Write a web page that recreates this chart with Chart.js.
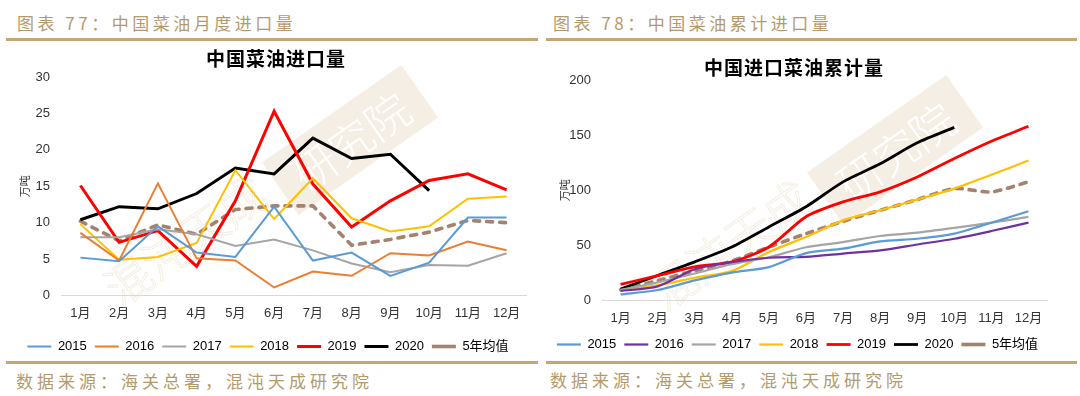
<!DOCTYPE html>
<html>
<head>
<meta charset="utf-8">
<script src="https://cdn.jsdelivr.net/npm/chart.js@4"></script>
<style>
body { margin: 0; width: 1080px; height: 396px; background: #fff; position: relative; overflow: hidden; font-family: "Noto Sans CJK SC", sans-serif; }
.cap { position: absolute; color: #b39a6c; font-size: 17px; letter-spacing: 3.5px; line-height: 20px; white-space: nowrap; }
.rule { position: absolute; height: 3px; background: #c4a776; }
.ttl { position: absolute; font-weight: 700; font-size: 19px; color: #000; transform: translateX(-50%); white-space: nowrap; line-height: 22px; letter-spacing: 1px; }
.box { position: absolute; }
</style>
</head>
<body>
<div class="cap" style="left:17px;top:13px">图表 77：中国菜油月度进口量</div>
<div class="cap" style="left:553px;top:13px">图表 78：中国菜油累计进口量</div>
<div class="rule" style="left:6px;width:532px;top:38px"></div>
<div class="rule" style="left:546px;width:531px;top:38px"></div>

<div class="box" style="left:10px;top:46px;width:530px;height:320px"><canvas id="monthly"></canvas></div>
<div class="box" style="left:548px;top:46px;width:530px;height:320px"><canvas id="cumulative"></canvas></div>

<div class="ttl" style="left:276px;top:47px">中国菜油进口量</div>
<div class="ttl" style="left:794px;top:56px">中国进口菜油累计量</div>

<div class="rule" style="left:6px;width:532px;top:361px"></div>
<div class="rule" style="left:546px;width:531px;top:361px"></div>
<div class="cap" style="left:16px;top:371px;letter-spacing:4px">数据来源：海关总署，混沌天成研究院</div>
<div class="cap" style="left:550px;top:370px;letter-spacing:4px">数据来源：海关总署，混沌天成研究院</div>

<script>
const months = ['1月', '2月', '3月', '4月', '5月', '6月', '7月', '8月', '9月', '10月', '11月', '12月'];

// monthly imports, 10k tonnes
const imp2015 = [5.2, 4.7, 9.5, 5.9, 5.3, 12.2, 4.8, 5.9, 2.7, 4.5, 10.7, 10.7];
const imp2016 = [8.6, 4.8, 15.4, 5.1, 4.8, 1.1, 3.3, 2.7, 5.8, 5.5, 7.4, 6.2];
const imp2017 = [8.0, 8.0, 9.1, 8.4, 6.8, 7.7, 6.2, 4.4, 3.2, 4.2, 4.1, 5.8];
const imp2018 = [9.8, 4.9, 5.3, 7.2, 17.2, 10.5, 16.1, 10.6, 8.8, 9.5, 13.3, 13.6];
const imp2019 = [15.1, 7.3, 8.9, 4.0, 13.0, 25.3, 15.3, 9.4, 13.0, 15.8, 16.7, 14.5];
const imp2020 = [10.4, 12.2, 11.9, 14.0, 17.5, 16.7, 21.6, 18.8, 19.4, 14.4];
const impAvg = [10.2, 7.5, 9.7, 8.4, 11.8, 12.3, 12.3, 6.9, 7.7, 8.7, 10.3, 10.0];

// cumulative imports, 10k tonnes
const cum2015 = [5.5, 9.5, 18.2, 25.3, 30.3, 43, 47, 53.6, 56, 60.6, 70.5, 81];
const cum2016 = [8.6, 12.8, 28.3, 34.8, 38.8, 39.6, 42.6, 45.5, 50.8, 56, 63, 70.6];
const cum2017 = [9.5, 16.5, 24.5, 33, 39.2, 48.3, 53, 58.5, 61.5, 65.8, 70.6, 75.8];
const cum2018 = [9.5, 13.8, 20.6, 26.7, 44, 57.6, 72.7, 81.8, 91.5, 101.5, 114, 127];
const cum2019 = [14.7, 22.5, 30.5, 35, 48.5, 76, 89.4, 98.5, 112, 128.8, 144.5, 158];
const cum2020 = [10.4, 22.7, 35, 48.5, 66.7, 85, 107.6, 124, 143, 157];
const cumAvg = [9.8, 18, 27, 35.8, 48.5, 60.6, 71.8, 81.8, 91.5, 101.5, 98.5, 107.6];

const yearLabels = ['2015', '2016', '2017', '2018', '2019', '2020'];
const avgLabel = '5年均值';

function line(label, data, color, width, tension) {
    return {
        label, data,
        borderColor: color, backgroundColor: color,
        borderWidth: width, pointRadius: 0, tension: tension || 0,
        fill: false
    };
}

function avgLines(data, tension) {
    const outer = line(avgLabel, data, '#a3826f', 3.6, tension);
    outer.borderDash = [6, 7];
    outer.borderCapStyle = 'round';
    const inner = line('', data, '#ddcbbb', 1.3, tension);
    inner.borderDash = [6, 7];
    return [outer, inner];
}

// faint 混沌天成研究院 stamp behind the lines
function watermark(cx, cy, tx, ty) {
    return {
        id: 'wm',
        beforeDatasetsDraw(chart) {
            const ctx = chart.ctx;
            ctx.save();
            ctx.translate(cx, cy);
            ctx.rotate(-35 * Math.PI / 180);
            ctx.fillStyle = 'rgba(236,226,210,0.6)';
            ctx.fillRect(-85, -32, 170, 64);
            ctx.fillStyle = '#fff';
            ctx.font = '300 44px "Noto Sans CJK SC"';
            ctx.textAlign = 'center';
            ctx.textBaseline = 'middle';
            ctx.fillText('研究院', 0, 2);
            ctx.restore();
            ctx.save();
            ctx.translate(tx, ty);
            ctx.rotate(-35 * Math.PI / 180);
            ctx.strokeStyle = 'rgba(230,214,190,0.45)';
            ctx.lineWidth = 1;
            ctx.font = '300 46px "Noto Sans CJK SC"';
            ctx.textAlign = 'center';
            ctx.textBaseline = 'middle';
            ctx.strokeText('混沌天成', 0, 0);
            ctx.restore();
        }
    };
}

const tickFont = { family: '"Liberation Sans", "Noto Sans CJK SC", sans-serif', size: 13 };

function options(max, step, yWidth, xHeight, pad, titlePad) {
    return {
        responsive: true,
        maintainAspectRatio: false,
        animation: false,
        layout: { padding: pad },
        plugins: {
            tooltip: { enabled: false },
            title: { display: false },
            legend: {
                position: 'bottom',
                labels: {
                    usePointStyle: true,
                    pointStyle: 'line',
                    pointStyleWidth: 24,
                    padding: 8,
                    color: '#000',
                    font: tickFont,
                    filter: item => item.text !== ''
                }
            }
        },
        scales: {
            x: {
                offset: true,
                grid: { display: false, drawTicks: false },
                border: { color: '#d9d9d9', width: 1 },
                ticks: { color: '#333', font: tickFont, padding: 10, maxRotation: 0 },
                afterFit: s => { s.height = xHeight; }
            },
            y: {
                min: 0, max: max,
                grid: { display: false, drawTicks: false },
                border: { display: false },
                ticks: { stepSize: step, color: '#333', font: tickFont, padding: 11 },
                title: { display: true, text: '万吨', color: '#333', font: { family: '"Noto Sans CJK SC"', size: 11 }, padding: { top: titlePad, bottom: 0 } },
                afterFit: s => { s.width = yWidth; }
            }
        }
    };
}

new Chart(document.getElementById('monthly'), {
    type: 'line',
    data: {
        labels: months,
        datasets: [
            line(yearLabels[0], imp2015, '#5b9bd5', 2),
            line(yearLabels[1], imp2016, '#ed7d31', 2),
            line(yearLabels[2], imp2017, '#a5a5a5', 2),
            line(yearLabels[3], imp2018, '#ffc000', 2),
            line(yearLabels[4], imp2019, '#ff0000', 3),
            line(yearLabels[5], imp2020, '#000000', 3),
            ...avgLines(impAvg)
        ]
    },
    options: options(30, 5, 51, 36.5, { top: 31, right: 14, left: 0, bottom: 3 }, 8),
    plugins: [watermark(340, 94, 175, 195)]
});

new Chart(document.getElementById('cumulative'), {
    type: 'line',
    data: {
        labels: months,
        datasets: [
            line(yearLabels[0], cum2015, '#5b9bd5', 2.2, 0.25),
            line(yearLabels[1], cum2016, '#7030a0', 2.2, 0.25),
            line(yearLabels[2], cum2017, '#a5a5a5', 2.2, 0.25),
            line(yearLabels[3], cum2018, '#ffc000', 2.2, 0.25),
            line(yearLabels[4], cum2019, '#ff0000', 2.8, 0.25),
            line(yearLabels[5], cum2020, '#000000', 2.8, 0.25),
            ...avgLines(cumAvg, 0.25)
        ]
    },
    options: options(200, 50, 54, 29.5, { top: 34, right: 31, left: 0, bottom: 5 }, 10),
    plugins: [watermark(347, 104, 182, 199)]
});
</script>
</body>
</html>
